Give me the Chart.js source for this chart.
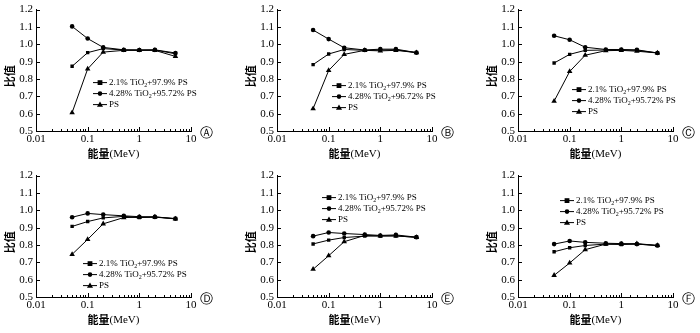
<!DOCTYPE html>
<html>
<head>
<meta charset="utf-8">
<script src="https://cdn.jsdelivr.net/npm/chart.js@4.4.1/dist/chart.umd.min.js"></script>
<style>
html, body { margin: 0; padding: 0; background: #fff; width: 700px; height: 333px; overflow: hidden; }
.panel { position: absolute; width: 230px; height: 165px; }
</style>
</head>
<body>
<div class="panel" style="left:0;top:0"><canvas id="cA" width="230" height="165"></canvas></div>
<div class="panel" style="left:241px;top:0"><canvas id="cB" width="230" height="165"></canvas></div>
<div class="panel" style="left:482px;top:0"><canvas id="cC" width="230" height="165"></canvas></div>
<div class="panel" style="left:0;top:166px"><canvas id="cD" width="230" height="165"></canvas></div>
<div class="panel" style="left:241px;top:166px"><canvas id="cE" width="230" height="165"></canvas></div>
<div class="panel" style="left:482px;top:166px"><canvas id="cF" width="230" height="165"></canvas></div>
<script>
// energies (MeV) shared by every panel
const energy = [0.05, 0.1, 0.2, 0.5, 1, 2, 5];
const xTickLabels = [0.01, 0.1, 1, 10];
const yMin = 0.5, yMax = 1.2, yStep = 0.1;

// legend labels ("_2" = subscript 2)
const label21 = "2.1% TiO_2+97.9% PS";
const label428 = "4.28% TiO_2+95.72% PS";
const label428b = "4.28% TiO_2+96.72% PS";
const labelPS = "PS";

// panel A
const a21 = [0.873, 0.952, 0.975, 0.967, 0.967, 0.967, 0.945];
const a428 = [1.103, 1.033, 0.982, 0.968, 0.967, 0.968, 0.950];
const aPS = [0.606, 0.858, 0.955, 0.965, 0.965, 0.965, 0.930];
// panel B
const b21 = [0.883, 0.944, 0.970, 0.965, 0.967, 0.968, 0.952];
const b428 = [1.082, 1.030, 0.980, 0.967, 0.972, 0.972, 0.952];
const bPS = [0.629, 0.849, 0.942, 0.965, 0.962, 0.965, 0.952];
// panel C
const c21 = [0.892, 0.942, 0.965, 0.967, 0.967, 0.965, 0.950];
const c428 = [1.049, 1.026, 0.983, 0.970, 0.970, 0.968, 0.950];
const cPS = [0.672, 0.843, 0.937, 0.963, 0.965, 0.960, 0.950];
// panel D
const d21 = [0.907, 0.935, 0.956, 0.965, 0.958, 0.960, 0.952];
const d428 = [0.960, 0.982, 0.975, 0.968, 0.963, 0.962, 0.952];
const dPS = [0.746, 0.832, 0.922, 0.958, 0.960, 0.962, 0.950];
// panel E
const e21 = [0.806, 0.828, 0.843, 0.851, 0.852, 0.852, 0.845];
const e428 = [0.851, 0.872, 0.866, 0.860, 0.855, 0.858, 0.845];
const ePS = [0.660, 0.738, 0.819, 0.855, 0.852, 0.853, 0.843];
// panel F
const f21 = [0.761, 0.784, 0.797, 0.805, 0.803, 0.805, 0.797];
const f428 = [0.805, 0.823, 0.815, 0.810, 0.808, 0.805, 0.797];
const fPS = [0.625, 0.696, 0.773, 0.805, 0.805, 0.808, 0.797];

const panels = [
    { id: "cA", tag: "\u24B6", s: [a21, a428, aPS], labels: [label21, label428, labelPS], leg: [57, 73] },
    { id: "cB", tag: "\u24B7", s: [b21, b428, bPS], labels: [label21, label428b, labelPS], leg: [55, 76] },
    { id: "cC", tag: "\u24B8", s: [c21, c428, cPS], labels: [label21, label428, labelPS], leg: [54, 80] },
    { id: "cD", tag: "\u24B9", s: [d21, d428, dPS], labels: [label21, label428, labelPS], leg: [47, 88] },
    { id: "cE", tag: "\u24BA", s: [e21, e428, ePS], labels: [label21, label428, labelPS], leg: [45, 22] },
    { id: "cF", tag: "\u24BB", s: [f21, f428, fPS], labels: [label21, label428, labelPS], leg: [42, 25] }
];

const markers = [
    { style: "rect", r: 2.4 },
    { style: "circle", r: 2.3 },
    { style: "triangle", r: 3.2 }
];

const SERIF = "'Liberation Serif', 'Times New Roman', serif";
const CJK = "'Noto Sans CJK SC', sans-serif";

function isDecade(v) {
    const l = Math.log10(v);
    return Math.abs(l - Math.round(l)) < 1e-9;
}

function drawMarker(ctx, style, x, y, r) {
    ctx.beginPath();
    if (style === "rect") {
        ctx.rect(x - r, y - r, 2 * r, 2 * r);
    } else if (style === "circle") {
        ctx.arc(x, y, r, 0, Math.PI * 2);
    } else {
        ctx.moveTo(x, y - r);
        ctx.lineTo(x + r * 0.95, y + r * 0.7);
        ctx.lineTo(x - r * 0.95, y + r * 0.7);
        ctx.closePath();
    }
    ctx.fill();
}

function drawSubText(ctx, text, x, y) {
    const parts = text.split("_2");
    ctx.font = "9px " + SERIF;
    ctx.fillText(parts[0], x, y);
    x += ctx.measureText(parts[0]).width;
    if (parts.length > 1) {
        ctx.font = "6px " + SERIF;
        ctx.fillText("2", x, y + 2.5);
        x += ctx.measureText("2").width;
        ctx.font = "9px " + SERIF;
        ctx.fillText(parts[1], x, y);
    }
}

// inward ticks, axis titles, inset legend and the circled panel letter
const decorPlugin = {
    id: "decor",
    afterDraw(chart, args, opts) {
        const ctx = chart.ctx;
        const area = chart.chartArea;
        const xs = chart.scales.x, ys = chart.scales.y;
        ctx.save();
        ctx.strokeStyle = "#000";
        ctx.fillStyle = "#000";
        ctx.lineWidth = 1;

        // ticks
        ctx.beginPath();
        xs.ticks.forEach(t => {
            const px = Math.round(xs.getPixelForValue(t.value)) + 0.5;
            const len = isDecade(t.value) ? 4 : 2;
            ctx.moveTo(px, area.bottom);
            ctx.lineTo(px, area.bottom - len);
        });
        ys.ticks.forEach(t => {
            const py = Math.round(ys.getPixelForValue(t.value)) + 0.5;
            ctx.moveTo(area.left, py);
            ctx.lineTo(area.left + 4, py);
        });
        ctx.stroke();

        // y title
        ctx.save();
        ctx.translate(10, (area.top + area.bottom) / 2 + 6);
        ctx.rotate(-Math.PI / 2);
        ctx.font = "bold 11px " + CJK;
        ctx.textAlign = "center";
        ctx.textBaseline = "middle";
        ctx.fillText("\u6BD4\u503C", 0, 0);
        ctx.restore();

        // x title
        ctx.textBaseline = "middle";
        ctx.textAlign = "left";
        ctx.font = "bold 11px " + CJK;
        const w1 = ctx.measureText("\u80FD\u91CF").width;
        ctx.font = "11px " + SERIF;
        const w2 = ctx.measureText("(MeV)").width;
        const x0 = (area.left + area.right) / 2 - (w1 + w2) / 2;
        ctx.font = "bold 11px " + CJK;
        ctx.fillText("\u80FD\u91CF", x0, 154);
        ctx.font = "11px " + SERIF;
        ctx.fillText("(MeV)", x0 + w1, 154);

        // circled letter
        ctx.font = "13px 'DejaVu Sans', sans-serif";
        ctx.textAlign = "center";
        ctx.fillText(opts.tag, area.right + 15, area.bottom + 3);

        // legend
        ctx.textAlign = "left";
        const lx = area.left + opts.leg[0];
        let ly = area.top + opts.leg[1];
        opts.labels.forEach((lab, i) => {
            ctx.beginPath();
            ctx.moveTo(lx, ly);
            ctx.lineTo(lx + 14, ly);
            ctx.stroke();
            drawMarker(ctx, markers[i].style, lx + 7, ly, markers[i].r);
            drawSubText(ctx, lab, lx + 16, ly + 0.5);
            ly += 11;
        });
        ctx.restore();
    }
};

panels.forEach(p => {
    const datasets = p.s.map((vals, i) => ({
        label: p.labels[i].replace("_2", "2"),
        data: energy.map((e, k) => ({ x: e, y: vals[k] })),
        borderColor: "#000",
        backgroundColor: "#000",
        borderWidth: 1,
        pointStyle: markers[i].style,
        pointRadius: markers[i].r,
        pointBorderWidth: 0,
        tension: 0
    }));

    new Chart(document.getElementById(p.id), {
        type: "line",
        data: { datasets: datasets },
        options: {
            responsive: false,
            animation: false,
            layout: { padding: { top: 6, right: 39, left: 0, bottom: 0 } },
            plugins: {
                legend: { display: false },
                tooltip: { enabled: false },
                decor: { tag: p.tag, labels: p.labels, leg: p.leg }
            },
            scales: {
                x: {
                    type: "logarithmic",
                    min: xTickLabels[0],
                    max: xTickLabels[xTickLabels.length - 1],
                    afterFit: s => { s.height = 34; },
                    grid: { display: true, drawOnChartArea: false, drawTicks: false },
                    border: { display: true, color: "#000", width: 1 },
                    ticks: {
                        autoSkip: false,
                        maxRotation: 0,
                        padding: 2,
                        color: "#000",
                        font: { family: SERIF, size: 11 },
                        callback: v => (xTickLabels.some(t => Math.abs(t - v) < 1e-9) ? String(v) : "")
                    }
                },
                y: {
                    min: yMin,
                    max: yMax,
                    afterFit: s => { s.width = 36; },
                    grid: { display: true, drawOnChartArea: false, drawTicks: false },
                    border: { display: true, color: "#000", width: 1 },
                    ticks: {
                        stepSize: yStep,
                        padding: 3,
                        color: "#000",
                        font: { family: SERIF, size: 11 },
                        callback: v => Number(v).toFixed(1)
                    }
                }
            }
        },
        plugins: [decorPlugin]
    });
});
</script>
</body>
</html>
